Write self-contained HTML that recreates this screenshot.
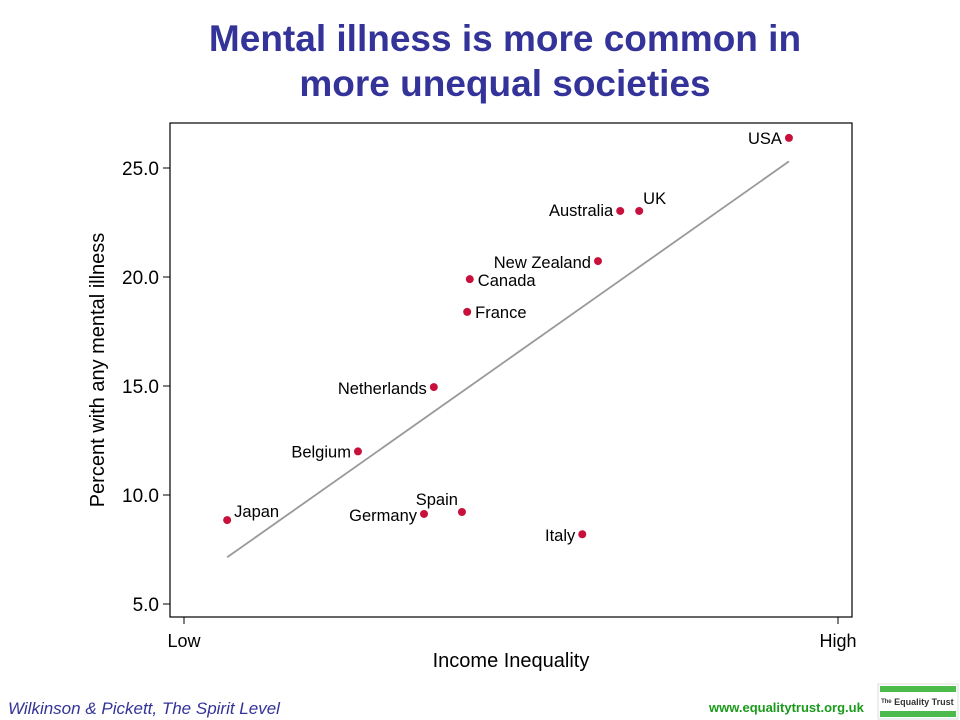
<!DOCTYPE html>
<html><head><meta charset="utf-8"><style>
body{margin:0;width:960px;height:720px;background:#fff;overflow:hidden;font-family:"Liberation Sans",sans-serif}
svg{position:absolute;left:0;top:0}
</style></head><body>
<svg id="c" width="960" height="720">
<text x="505" y="51" text-anchor="middle" font-size="37" font-weight="bold" fill="#333399">Mental illness is more common in</text>
<text x="505" y="96" text-anchor="middle" font-size="37" font-weight="bold" fill="#333399">more unequal societies</text>
<rect x="170" y="123" width="682" height="494" fill="none" stroke="#000" stroke-width="1.2"/>
<g id="ax"></g>
<g id="marks"></g>
<text x="104" y="370" text-anchor="middle" font-size="20" transform="rotate(-90 104 370)">Percent with any mental illness</text>
<text x="511" y="667" text-anchor="middle" font-size="20">Income Inequality</text>
<text x="8" y="714" font-size="17" font-style="italic" fill="#333399">Wilkinson &amp; Pickett, The Spirit Level</text>
<text x="709" y="712" font-size="13" font-weight="bold" fill="#1a9a1a">www.equalitytrust.org.uk</text>
<g>
<rect x="878" y="684" width="80" height="35" fill="#fff" stroke="#bbb" stroke-width="0.5"/>
<rect x="880" y="686" width="76" height="6" fill="#4cbb4c"/>
<rect x="880" y="711" width="76" height="6" fill="#4cbb4c"/>
<text x="881" y="705" font-size="9" font-weight="bold" fill="#333">ᵀʰᵉ Equality Trust</text>
</g>
</svg>
<script>
const countries=["Japan","Belgium","Netherlands","Germany","Spain","France","Canada","Italy","New Zealand","Australia","UK","USA"];
const inequality=[6.6,26.6,38.2,36.7,42.5,43.3,43.7,60.9,63.3,66.7,69.6,92.5];
const mentalIllness=[8.85,12.0,14.95,9.13,9.22,18.4,19.9,8.2,20.73,23.03,23.03,26.38];
const yTicks=[5,10,15,20,25];
const yTickLabels=["5.0","10.0","15.0","20.0","25.0"];
const xTickLabels=["Low","High"];
const NS="http://www.w3.org/2000/svg";
const sx=v=>184+v*6.54, sy=v=>168+(25-v)*21.8;
function mk(t,a,p){const e=document.createElementNS(NS,t);for(const k in a)e.setAttribute(k,a[k]);p.appendChild(e);return e;}
const ax=document.getElementById('ax'),mg=document.getElementById('marks');
yTicks.forEach((v,i)=>{
 const l=mk('line',{x1:163,x2:170,y1:sy(v),y2:sy(v),stroke:'#000'},ax);
 
 
 const t=mk('text',{x:159,y:sy(v)+7,'text-anchor':'end','font-size':19},ax);t.textContent=yTickLabels[i];
 
 
});
[0,100].forEach((v,i)=>{
 const l=mk('line',{x1:sx(v),x2:sx(v),y1:617,y2:624,stroke:'#000'},ax);
 
 
 const t=mk('text',{x:sx(v),y:647,'text-anchor':'middle','font-size':18},ax);t.textContent=xTickLabels[i];
 
 
});
const n=inequality.length,mx=inequality.reduce((a,b)=>a+b)/n,my=mentalIllness.reduce((a,b)=>a+b)/n;
let sxy=0,sxx=0;inequality.forEach((x,i)=>{sxy+=(x-mx)*(mentalIllness[i]-my);sxx+=(x-mx)**2;});
const b=sxy/sxx,a=my-b*mx,x0=Math.min(...inequality),x1=Math.max(...inequality);
const tl=mk('line',{x1:sx(x0),y1:sy(a+b*x0),x2:sx(x1),y2:sy(a+b*x1),stroke:'#999','stroke-width':1.8},mg);


const lab={"Japan":[7,-3,'start'],"Belgium":[-7,6,'end'],"Netherlands":[-7,7,'end'],"Germany":[-7,7,'end'],"Spain":[-4,-7,'end'],"France":[8,6,'start'],"Canada":[8,7,'start'],"Italy":[-7,7,'end'],"New Zealand":[-7,7,'end'],"Australia":[-7,5,'end'],"UK":[4,-7,'start'],"USA":[-7,6,'end']};
countries.forEach((c,i)=>{
 const cx=sx(inequality[i]),cy=sy(mentalIllness[i]);
 const d=mk('circle',{cx:cx,cy:cy,r:4,fill:'#c8103c'},mg);
 
 
 const L=lab[c];
 const t=mk('text',{x:cx+L[0],y:cy+L[1],'text-anchor':L[2],'font-size':16.5},mg);t.textContent=c;
 
 
});
</script>
</body></html>
